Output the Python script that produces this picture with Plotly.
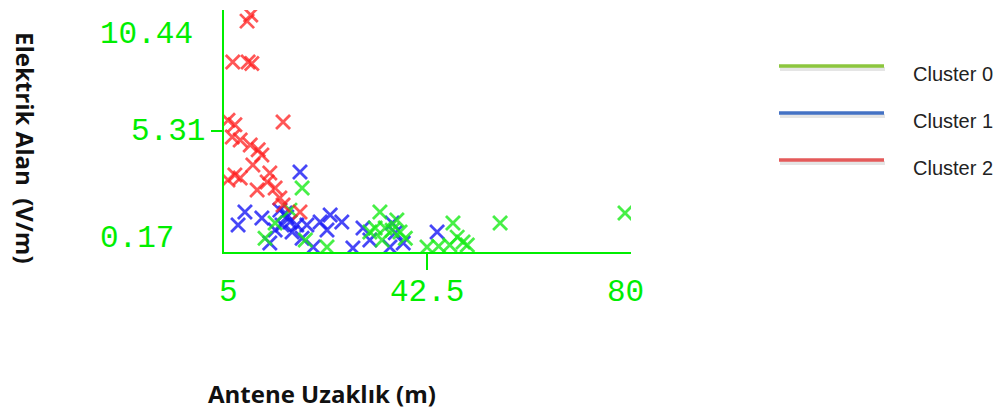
import plotly.graph_objects as go

# ---------------- data ----------------
cluster_names = ["Cluster 0", "Cluster 1", "Cluster 2"]

c0_x = [19.0, 13.9, 16.7, 23.7, 33.7, 34.1, 34.7, 32.8, 36.9, 37.5, 42.6, 47.5,
        48.3, 49.4, 46.9, 44.8, 50.2, 56.4, 80.0, 31.8, 19.6, 12.0, 38.5, 36.0]
c0_y = [2.81, 1.27, 1.84, 0.21, 1.76, 0.52, 1.05, 1.05, 1.40, 0.88, 0.21, 1.27,
        0.65, 0.43, 0.30, 0.25, 0.30, 1.27, 1.71, 0.88, 0.52, 0.60, 0.60, 0.95]

c1_x = [18.6, 8.2, 6.9, 11.4, 14.8, 15.8, 16.1, 15.2, 17.1, 18.0, 19.9, 12.9,
        21.1, 22.4, 23.7, 24.3, 26.5, 28.6, 30.5, 31.8, 36.0, 36.6, 38.1, 35.6,
        44.5, 19.0, 16.7, 13.9]
c1_y = [3.52, 1.76, 1.18, 1.49, 1.84, 1.71, 1.54, 1.18, 0.88, 1.18, 1.18, 0.39,
        0.21, 1.32, 0.96, 1.62, 1.32, 0.17, 1.05, 0.52, 1.27, 0.84, 0.39, 0.21,
        0.88, 0.60, 1.32, 0.96]

c2_x = [8.6, 9.3, 5.9, 8.8, 9.5, 15.4, 5.0, 6.3, 5.8, 7.3, 9.2, 10.7, 11.4,
        9.7, 6.3, 7.3, 5.0, 10.5, 12.9, 13.9, 14.8, 15.4, 18.6, 12.4]
c2_y = [10.17, 10.44, 8.37, 8.37, 8.30, 5.72, 5.80, 5.60, 5.06, 4.93, 4.71, 4.50, 4.27,
        3.83, 3.39, 3.26, 3.17, 2.73, 3.48, 2.81, 2.37, 2.07, 1.76, 3.08]

x_ticks = [5, 42.5, 80]
y_ticks = [0.17, 5.31, 10.44]
x_title = "Antene Uzaklık (m)"
y_title = "Elektrik Alan  (V/m)"

marker_colors = ["rgba(25,235,25,0.8)", "rgba(25,25,245,0.8)", "rgba(255,30,30,0.75)"]
legend_colors = ["#8CC63E", "#4472C4", "#E45A5A"]
AXIS = "#00EE00"

# ---------------- layout geometry (pixels in the 1003x414 window) ----------------
OFF = 8  # page body margin
W, H = 1003 - OFF, 414 - OFF
L, R, T, B = 224 - OFF, 631 - OFF, 10 - OFF, 252 - OFF


def px_x(px):
    return (px - OFF - L) / (R - L)


def px_y(py):
    return (B - (py - OFF)) / (B - T)


fig = go.Figure()
series = [(c1_x, c1_y, 1), (c0_x, c0_y, 0), (c2_x, c2_y, 2)]
for xs, ys, k in series:
    fig.add_trace(go.Scatter(
        x=xs, y=ys, mode="markers", name=cluster_names[k], showlegend=False,
        marker=dict(symbol="x-thin", size=14, color=marker_colors[k],
                    line=dict(color=marker_colors[k], width=2.8)),
    ))

fig.update_layout(
    width=W, height=H, margin=dict(l=L, r=W - R, t=T, b=H - B),
    plot_bgcolor="white", paper_bgcolor="white", showlegend=False,
    xaxis=dict(range=[4.244, 81.13], showgrid=False, zeroline=False,
               showline=True, linecolor=AXIS, linewidth=2,
               tickvals=[x_ticks[1]], ticks="outside", ticklen=16, tickwidth=2,
               tickcolor=AXIS, showticklabels=False),
    yaxis=dict(range=[-0.006, 10.66], showgrid=False, zeroline=False,
               showline=True, linecolor=AXIS, linewidth=2,
               tickvals=[y_ticks[1]], ticks="outside", ticklen=11, tickwidth=2,
               tickcolor=AXIS, showticklabels=False),
)

tick_font = dict(family="Liberation Mono", size=31, color=AXIS)
ann = []
# x tick labels
for v in x_ticks:
    ann.append(dict(x=v, xref="x", y=px_y(292), yref="paper", text=str(v),
                    showarrow=False, font=tick_font, xanchor="center", yanchor="middle"))
# y tick labels (Weka style)
ann.append(dict(x=px_x(98), xref="paper", y=px_y(34), yref="paper", text=f"{y_ticks[2]:.2f}",
                showarrow=False, font=tick_font, xanchor="left", yanchor="middle"))
ann.append(dict(x=px_x(207), xref="paper", y=y_ticks[1], yref="y", text=f"{y_ticks[1]:.2f}",
                showarrow=False, font=tick_font, xanchor="right", yanchor="middle"))
ann.append(dict(x=px_x(98), xref="paper", y=px_y(238), yref="paper", text=f"{y_ticks[0]:.2f}",
                showarrow=False, font=tick_font, xanchor="left", yanchor="middle"))

title_font = dict(family="Open Sans", size=24, color="#111111")
ann.append(dict(x=px_x(322), xref="paper", y=px_y(393), yref="paper",
                text=f"<b>{x_title}</b>", showarrow=False, font=title_font,
                xanchor="center", yanchor="middle"))
ann.append(dict(x=px_x(26), xref="paper", y=px_y(148), yref="paper",
                text=f"<b>{y_title}</b>", showarrow=False, font=title_font,
                textangle=90, xanchor="center", yanchor="middle"))

# custom legend
shapes = []
line_y = [66, 113, 160]
for i, name in enumerate(cluster_names):
    shapes.append(dict(type="line", xref="paper", yref="paper",
                       x0=px_x(780), x1=px_x(885), y0=px_y(line_y[i] + 3), y1=px_y(line_y[i] + 3),
                       line=dict(color="rgba(0,0,0,0.10)", width=4)))
    shapes.append(dict(type="line", xref="paper", yref="paper",
                       x0=px_x(779), x1=px_x(884), y0=px_y(line_y[i]), y1=px_y(line_y[i]),
                       line=dict(color=legend_colors[i], width=3.5)))
    ann.append(dict(x=px_x(911), xref="paper", y=px_y(line_y[i] + 8), yref="paper",
                    text=name, showarrow=False,
                    font=dict(family="Liberation Sans", size=20, color="#222222"),
                    xanchor="left", yanchor="middle"))

fig.update_layout(annotations=ann, shapes=shapes)
fig.write_html("out.html")
